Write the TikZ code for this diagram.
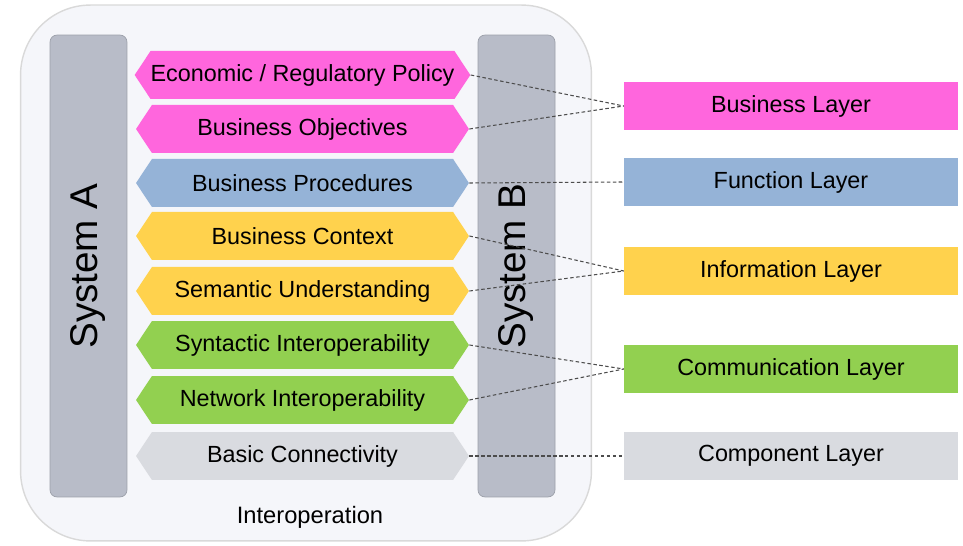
\documentclass[tikz,border=0pt]{standalone}
\usepackage{fontspec}
\setmainfont{Liberation Sans}
\usepackage{tikz}
\usetikzlibrary{shapes.symbols}

\definecolor{pinkl}{RGB}{255,102,221}
\definecolor{bluel}{RGB}{149,179,215}
\definecolor{yellowl}{RGB}{255,210,77}
\definecolor{greenl}{RGB}{146,208,80}
\definecolor{grayl}{RGB}{217,219,224}
\definecolor{barl}{RGB}{184,188,200}
\definecolor{boxl}{RGB}{245,246,250}

\begin{document}
\begin{tikzpicture}[x=0.02cm, y=-0.02cm,
  hexa/.style={signal, signal to=west and east, signal pointer angle=113, draw=none,
    minimum width=6.66cm, minimum height=0.96cm, inner sep=0pt, font=\fontsize{13.3}{16}\selectfont},
  layer/.style={rectangle, draw=none, minimum width=6.68cm, minimum height=0.95cm,
    inner sep=0pt, font=\fontsize{13.3}{16}\selectfont},
  sysbar/.style={rectangle, rounded corners=0.14cm, fill=barl, draw=barl!85!black,
    rotate=90, minimum width=9.24cm, minimum height=1.54cm, font=\fontsize{22}{26}\selectfont},
  link/.style={draw=black!70, line width=0.6pt, dash pattern=on 2pt off 1.4pt}]
  \useasboundingbox (0,0) rectangle (963,546);
  \node [rectangle, rounded corners=1.4cm, fill=boxl, draw=black!15, line width=0.8pt,
    minimum width=11.42cm, minimum height=10.72cm] (frame) at (306,273) {};
  \node [font=\fontsize{13.5}{16}\selectfont] (interop) at (310,517) {Interoperation};
  \node [sysbar] (sysA) at (88.5,266) {System A};
  \node [sysbar] (sysB) at (516.5,266) {System B};
  \node [hexa, fill=pinkl] (econ) at (302.5,75) {Economic / Regulatory Policy};
  \node [hexa, fill=pinkl] (obj) at (302.5,129) {Business Objectives};
  \node [hexa, fill=bluel] (proc) at (302.5,183) {Business Procedures};
  \node [hexa, fill=yellowl] (ctx) at (302.5,236) {Business Context};
  \node [hexa, fill=yellowl] (sem) at (302.5,291) {Semantic Understanding};
  \node [hexa, fill=greenl] (syn) at (302.5,345) {Syntactic Interoperability};
  \node [hexa, fill=greenl] (net) at (302.5,400) {Network Interoperability};
  \node [hexa, fill=grayl] (conn) at (302.5,456) {Basic Connectivity};
  \node [layer, fill=pinkl] (business) at (791,106) {Business Layer};
  \node [layer, fill=bluel] (function) at (791,182) {Function Layer};
  \node [layer, fill=yellowl] (information) at (791,271) {Information Layer};
  \node [layer, fill=greenl] (communication) at (791,369) {Communication Layer};
  \node [layer, fill=grayl] (component) at (791,456) {Component Layer};
  \draw [link] (econ.east) -- (business.west);
  \draw [link] (obj.east) -- (business.west);
  \draw [link] (proc.east) -- (function.west);
  \draw [link] (ctx.east) -- (information.west);
  \draw [link] (sem.east) -- (information.west);
  \draw [link] (syn.east) -- (communication.west);
  \draw [link] (net.east) -- (communication.west);
  \draw [link] (conn.east) -- (component.west);
\end{tikzpicture}
\end{document}
